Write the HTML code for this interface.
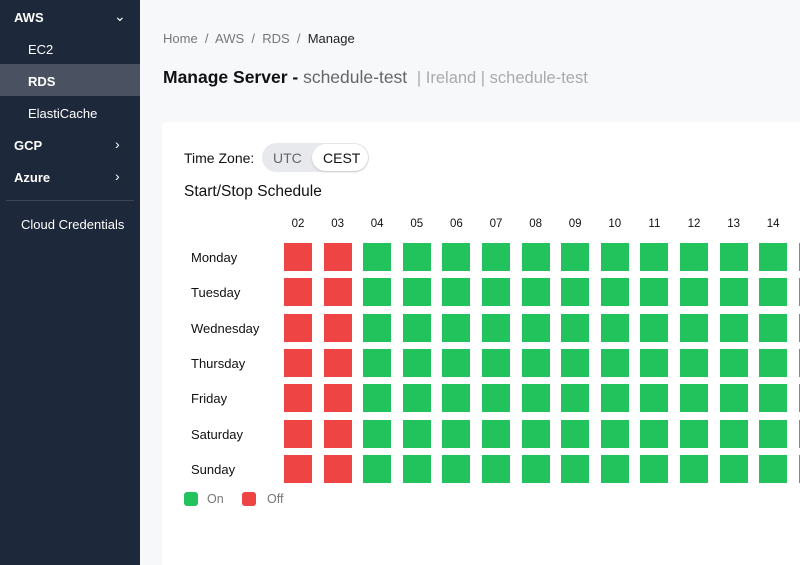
<!DOCTYPE html>
<html><head><meta charset="utf-8"><style>
*{box-sizing:border-box;margin:0;padding:0}
html,body{width:800px;height:565px;overflow:hidden}
body{background:#f7f8fa;font-family:"Liberation Sans",sans-serif}
#wrap{position:relative;width:800px;height:565px;overflow:hidden}
.sb{position:absolute;left:0;top:0;width:140px;height:565px;background:#1d283a;color:#fff}
.sb div{position:absolute;font-size:13px}
.abs{position:absolute}
.card{position:absolute;left:162px;top:122px;width:638px;height:443px;background:#fff;border-radius:6px 0 0 0}
.cell{position:absolute;width:28px;height:28px}
.hl{position:absolute;font-size:11.5px;color:#111;width:40px;text-align:center}
.dl{position:absolute;font-size:13px;color:#111}
</style></head><body><div id="wrap">
<div class="sb">
<div style="left:14px;top:10px;font-weight:bold">AWS</div>
<div style="left:114px;top:8px;font-size:14px">⌄</div>
<div style="left:28px;top:42px">EC2</div>
<div style="left:0;top:64px;width:140px;height:32px;background:#4a5261"></div>
<div style="left:28px;top:74px;font-weight:bold">RDS</div>
<div style="left:28px;top:106px">ElastiCache</div>
<div style="left:14px;top:138px;font-weight:bold">GCP</div>
<div style="left:115px;top:136px;font-size:14px">›</div>
<div style="left:14px;top:170px;font-weight:bold">Azure</div>
<div style="left:115px;top:168px;font-size:14px">›</div>
<div style="left:6px;top:200px;width:128px;height:1px;background:#3b4556"></div>
<div style="left:21px;top:217px">Cloud Credentials</div>
</div>
<div class="abs" style="left:163px;top:31px;font-size:13px;color:#777">Home &nbsp;/&nbsp; AWS &nbsp;/&nbsp; RDS &nbsp;/&nbsp; <span style="color:#222">Manage</span></div>
<div class="abs" style="left:163px;top:67px;font-size:17.5px;color:#111"><b style="font-weight:600">Manage Server -</b> <span style="color:#666">schedule-test</span> &nbsp;<span style="color:#aaa;font-size:16.5px">| Ireland | schedule-test</span></div>
<div class="card"></div>
<div class="abs" style="left:184px;top:150px;font-size:14px;color:#111">Time Zone:</div>
<div class="abs" style="left:262px;top:143px;width:107px;height:29px;border-radius:15px;background:#e8e9ec"></div>
<div class="abs" style="left:273px;top:150px;font-size:14px;color:#666">UTC</div>
<div class="abs" style="left:312px;top:144px;width:56px;height:27px;border-radius:14px;background:#fff;box-shadow:0 1px 2px rgba(0,0,0,.15)"></div>
<div class="abs" style="left:323px;top:150px;font-size:14px;color:#111">CEST</div>
<div class="abs" style="left:184px;top:183px;font-size:15.5px;color:#111">Start/Stop Schedule</div>
<div id="grid"></div>
<div class="abs" style="left:184px;top:492px;width:14px;height:14px;border-radius:3px;background:#22c25d"></div>
<div class="abs" style="left:207px;top:492px;font-size:12.5px;color:#777">On</div>
<div class="abs" style="left:242px;top:492px;width:14px;height:14px;border-radius:3px;background:#ef4444"></div>
<div class="abs" style="left:267px;top:492px;font-size:12.5px;color:#777">Off</div>
</div>
<script>
const hours=["02","03","04","05","06","07","08","09","10","11","12","13","14","15"];
const days=["Monday","Tuesday","Wednesday","Thursday","Friday","Saturday","Sunday"];
const monday=[0,0,1,1,1,1,1,1,1,1,1,1,1,1];
const tuesday=[0,0,1,1,1,1,1,1,1,1,1,1,1,1];
const wednesday=[0,0,1,1,1,1,1,1,1,1,1,1,1,1];
const thursday=[0,0,1,1,1,1,1,1,1,1,1,1,1,1];
const friday=[0,0,1,1,1,1,1,1,1,1,1,1,1,1];
const saturday=[0,0,1,1,1,1,1,1,1,1,1,1,1,1];
const sunday=[0,0,1,1,1,1,1,1,1,1,1,1,1,1];
const values=[monday,tuesday,wednesday,thursday,friday,saturday,sunday];
const g=document.getElementById('grid');
const xAt=i=>284+i*39.6, yAt=j=>243+j*35.3;
hours.forEach((h,i)=>{const d=document.createElement('div');d.className='hl';d.style.left=(xAt(i)-6)+'px';d.style.top='218px';d.textContent=h;


g.appendChild(d);});
days.forEach((day,j)=>{const l=document.createElement('div');l.className='dl';l.style.left='191px';l.style.top=(yAt(j)+7)+'px';l.textContent=day;


g.appendChild(l);
values[j].forEach((v,i)=>{const c=document.createElement('div');c.className='cell';c.style.left=xAt(i)+'px';c.style.top=yAt(j)+'px';c.style.background=v?'#22c25d':'#ef4444';


g.appendChild(c);});});
</script>
</body></html>
